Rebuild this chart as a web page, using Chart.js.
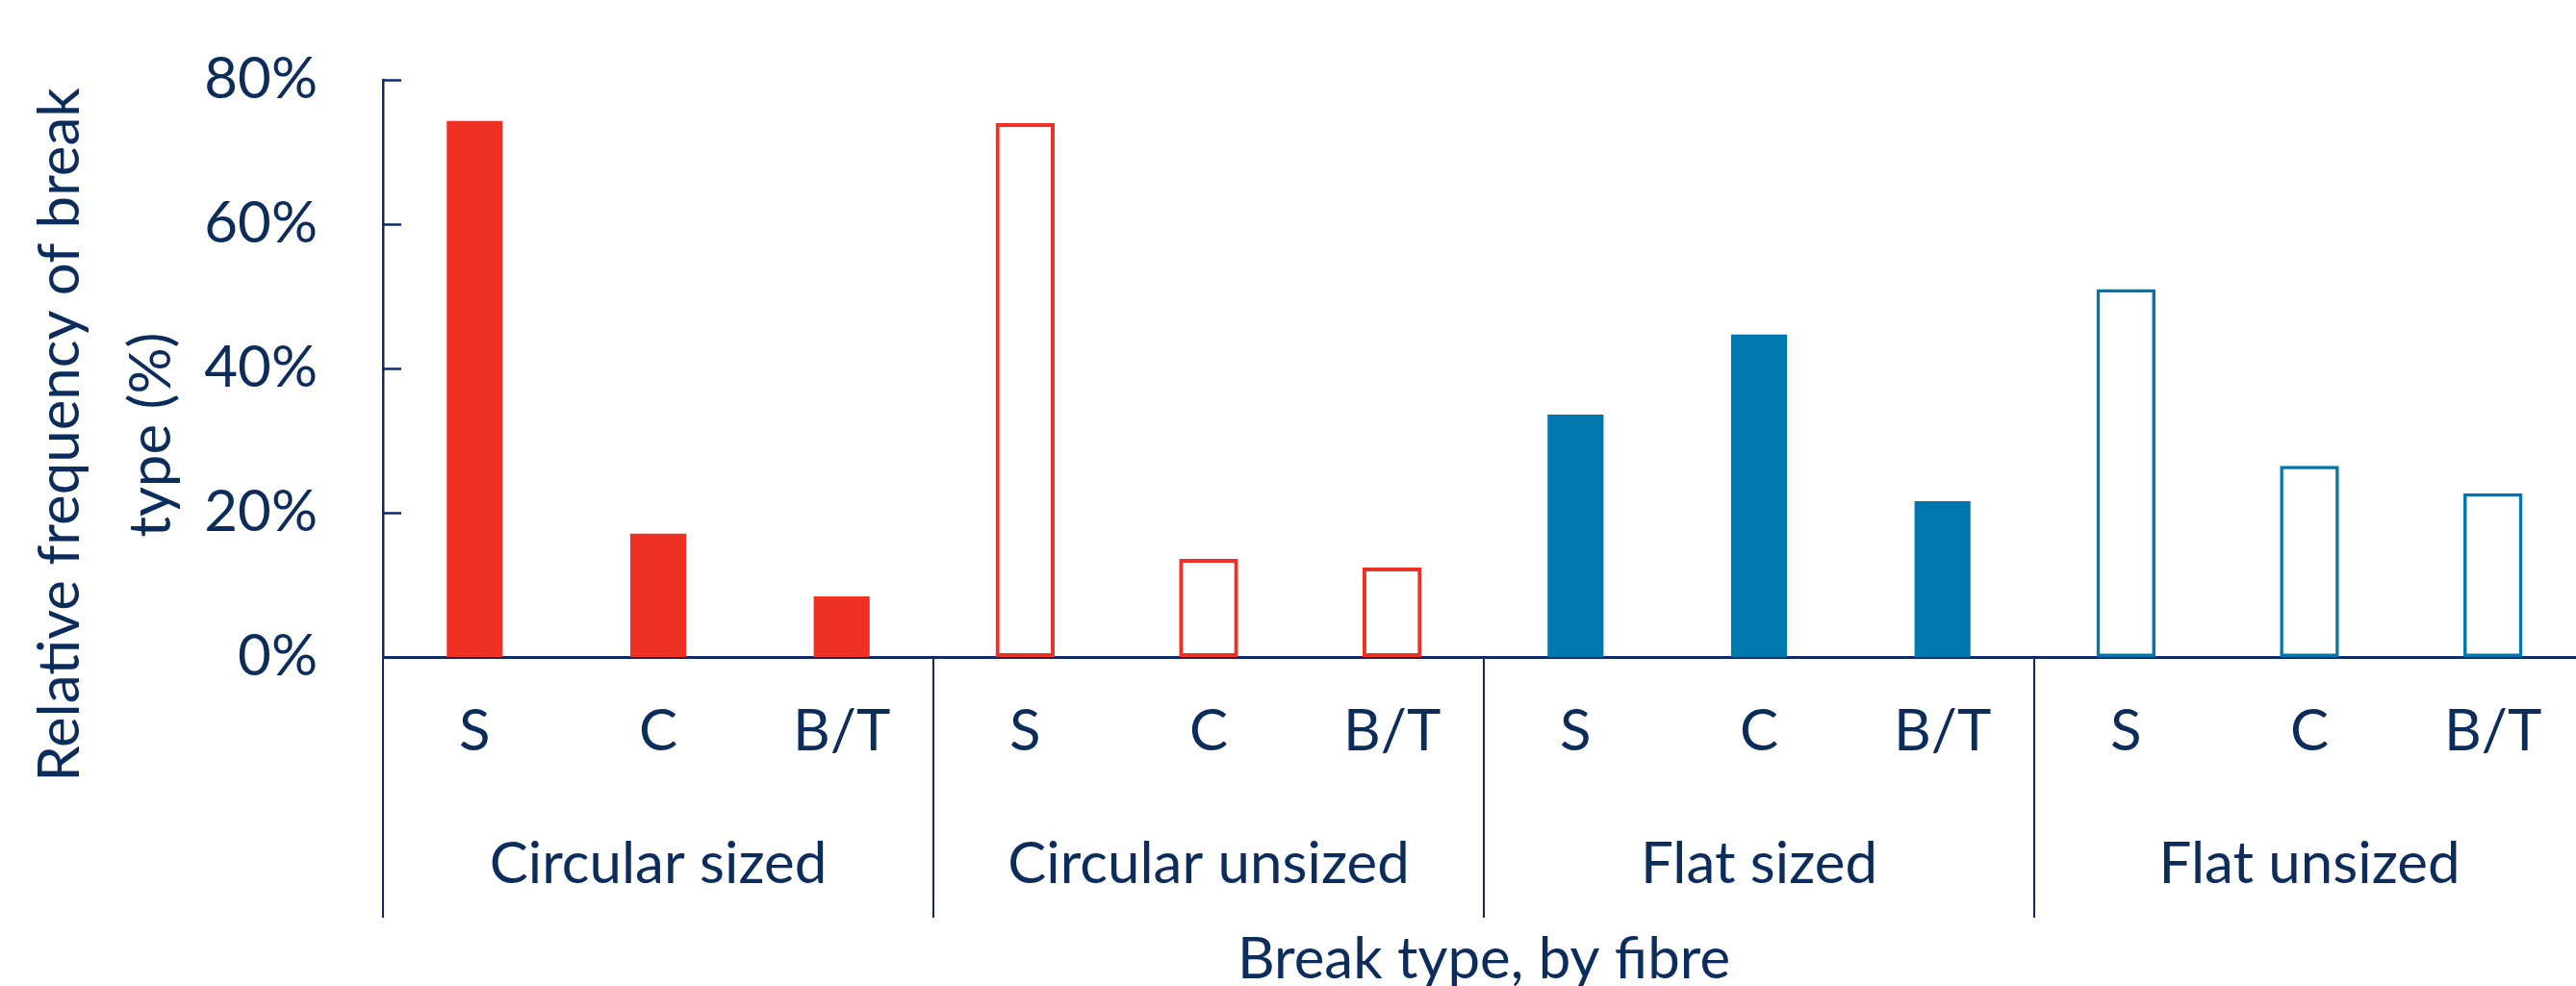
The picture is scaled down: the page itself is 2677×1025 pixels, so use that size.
<!DOCTYPE html>
<html lang="en">
<head>
  <meta charset="UTF-8">
  <title>Break type by fibre</title>
  <script src="https://cdn.jsdelivr.net/npm/chart.js"></script>
  <style>
    html, body {
      margin: 0;
      padding: 0;
      background: #fff;
      overflow: hidden;
    }
    #canvas {
      display: block;
    }
  </style>
</head>
<body>
  <canvas id="canvas" width="2686" height="1025"></canvas>

  <script>
    // categories
    const breakTypes = ["S", "C", "B/T"];
    const fibres = ["Circular sized", "Circular unsized", "Flat sized", "Flat unsized"];
    const yTicks = [0, 20, 40, 60, 80];

    // relative frequency (%) per break type, one list per fibre
    const circularSized = [74.3, 17.1, 8.4];
    const circularUnsized = [74.0, 13.6, 12.4];
    const flatSized = [33.6, 44.7, 21.6];
    const flatUnsized = [51.0, 26.5, 22.7];

    const NAVY = "#0c2c5c";
    const LINE = "#11296a";
    const RED = "#ee3124";
    const BLUE = "#0077ad";
    const FONT = "Lato";

    const labels = [];
    fibres.forEach(() => breakTypes.forEach(b => labels.push(b)));

    // put each fibre's values in its own slot of the 12 categories
    function place(values, groupIndex) {
      const out = labels.map(() => null);
      values.forEach((v, i) => { out[groupIndex * breakTypes.length + i] = v; });
      return out;
    }

    const datasets = [
      {
        label: fibres[0],
        data: place(circularSized, 0),
        backgroundColor: RED,
        borderWidth: 0,
        barPercentage: 0.305
      },
      {
        label: fibres[1],
        data: place(circularUnsized, 1),
        backgroundColor: "rgba(0,0,0,0)",
        borderColor: RED,
        borderWidth: 4,
        borderSkipped: false,
        barPercentage: 0.322
      },
      {
        label: fibres[2],
        data: place(flatSized, 2),
        backgroundColor: BLUE,
        borderWidth: 0,
        barPercentage: 0.305
      },
      {
        label: fibres[3],
        data: place(flatUnsized, 3),
        backgroundColor: "rgba(0,0,0,0)",
        borderColor: BLUE,
        borderWidth: 3.5,
        borderSkipped: false,
        barPercentage: 0.322
      }
    ];

    // inner y ticks, group separators, group labels and axis titles
    const decorations = {
      id: "decorations",
      afterDraw(chart) {
        const ctx = chart.ctx;
        const area = chart.chartArea;
        const x = chart.scales.x;
        const y = chart.scales.y;
        const lowEnd = 954;
        ctx.save();

        ctx.strokeStyle = LINE;
        ctx.lineWidth = 2.5;
        yTicks.forEach(t => {
          if (t === 0) return;
          const py = Math.round(y.getPixelForValue(t)) + 0.5;
          ctx.beginPath();
          ctx.moveTo(area.left, py);
          ctx.lineTo(area.left + 19, py);
          ctx.stroke();
        });

        ctx.lineWidth = 2;
        ctx.beginPath();
        ctx.moveTo(area.left, area.bottom);
        ctx.lineTo(area.left, lowEnd);
        for (let g = 1; g < fibres.length; g++) {
          const i = g * breakTypes.length;
          const px = (x.getPixelForValue(i - 1) + x.getPixelForValue(i)) / 2;
          ctx.moveTo(px, area.bottom);
          ctx.lineTo(px, lowEnd);
        }
        ctx.stroke();

        ctx.fillStyle = NAVY;
        ctx.font = "60px " + FONT;
        ctx.textAlign = "center";
        ctx.textBaseline = "alphabetic";
        fibres.forEach((f, g) => {
          const first = x.getPixelForValue(g * breakTypes.length);
          const last = x.getPixelForValue(g * breakTypes.length + breakTypes.length - 1);
          ctx.fillText(f, (first + last) / 2, 918);
        });

        ctx.fillText("Break type, by fibre", (area.left + area.right) / 2, 1017);

        const yTitle = ["Relative frequency of break", "type (%)"];
        [82, 177].forEach((bx, i) => {
          ctx.save();
          ctx.translate(bx, 452);
          ctx.rotate(-Math.PI / 2);
          ctx.fillText(yTitle[i], 0, 0);
          ctx.restore();
        });

        ctx.restore();
      }
    };

    const chartOptions = {
      responsive: false,
      animation: false,
      layout: {
        padding: { top: 83, right: 0, bottom: 0, left: 0 }
      },
      datasets: {
        bar: {
          grouped: false,
          categoryPercentage: 1
        }
      },
      plugins: {
        legend: { display: false },
        title: { display: false },
        tooltip: { enabled: false }
      },
      scales: {
        x: {
          grid: { display: false, drawTicks: false },
          border: { display: true, color: LINE, width: 3 },
          ticks: {
            color: NAVY,
            font: { family: FONT, size: 60 },
            padding: 42,
            maxRotation: 0,
            autoSkip: false
          },
          afterFit(scale) { scale.height = 342; }
        },
        y: {
          min: 0,
          max: 80,
          grid: { display: false, drawTicks: false },
          border: { display: true, color: LINE, width: 2.5 },
          ticks: {
            stepSize: 20,
            color: NAVY,
            font: { family: FONT, size: 60 },
            padding: 68,
            callback: v => v + "%"
          },
          afterFit(scale) {
            scale.width = 398;
            scale.paddingTop = 0;
            scale.paddingBottom = 0;
          }
        }
      }
    };

    window.onload = function () {
      const ctx = document.getElementById("canvas").getContext("2d");
      new Chart(ctx, {
        type: "bar",
        data: { labels: labels, datasets: datasets },
        options: chartOptions,
        plugins: [decorations]
      });
    };
  </script>
</body>
</html>
